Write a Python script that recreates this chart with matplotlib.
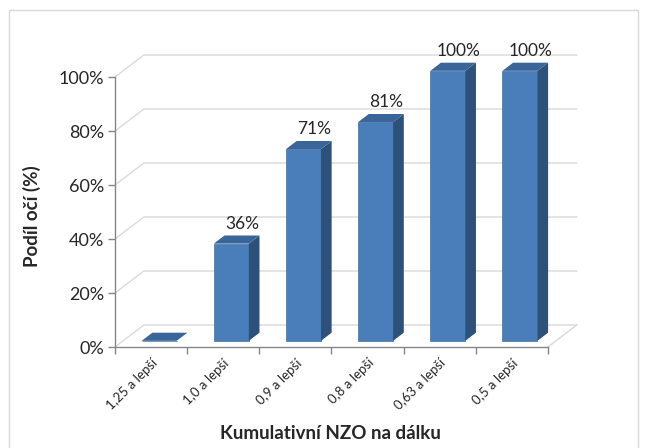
import matplotlib
matplotlib.use("Agg")
import matplotlib.pyplot as plt
from matplotlib.patches import Polygon, Rectangle

categories = ["1,25 a lepší", "1,0 a lepší", "0,9 a lepší", "0,8 a lepší", "0,63 a lepší", "0,5 a lepší"]
values = [0, 36, 71, 81, 100, 100]
value_labels = ["", "36%", "71%", "81%", "100%", "100%"]
yticks = [0, 20, 40, 60, 80, 100]
ytick_labels = ["0%", "20%", "40%", "60%", "80%", "100%"]

FRONT, SIDE, TOP = "#4a7ebb", "#2e5079", "#3a659b"
GRID, AXIS, TXT = "#d9d9d9", "#868686", "#262626"
DX, DY = 0.40, 8.15      # floor depth (category units, % units)
Z0, Z1 = 0.28, 0.65      # bar front / back depth as fraction of floor depth
W = 0.485                # bar width

plt.rcParams["font.family"] = ["Lato", "DejaVu Sans"]

fig = plt.figure(figsize=(6.48, 4.48), dpi=100)
ax = fig.add_axes([115 / 648, (448 - 347) / 448, (584 - 115) / 648, (347 - 36.5) / 448])
ax.set_xlim(-0.5, 6.0)
ax.set_ylim(0, 115)

# back wall gridlines + left-wall diagonals
n = len(categories)
for v in yticks:
    ax.plot([-0.5, -0.5 + DX, n - 0.5 + DX], [v, v + DY, v + DY], color=GRID, lw=1, zorder=1)
# right edge of the floor
ax.plot([n - 0.5, n - 0.5 + DX], [0, DY], color=GRID, lw=1, zorder=1)

# pseudo-3D columns
xs = list(range(n))
ax.bar([x + Z0 * DX for x in xs], values, width=W, bottom=Z0 * DY, color=FRONT,
       edgecolor="#41709f", linewidth=0.5, zorder=3)
for x, v, lab in zip(xs, values, value_labels):
    l, r = x - W / 2, x + W / 2
    side = [(r + Z0 * DX, Z0 * DY), (r + Z1 * DX, Z1 * DY),
            (r + Z1 * DX, v + Z1 * DY), (r + Z0 * DX, v + Z0 * DY)]
    top = [(l + Z0 * DX, v + Z0 * DY), (r + Z0 * DX, v + Z0 * DY),
           (r + Z1 * DX, v + Z1 * DY), (l + Z1 * DX, v + Z1 * DY)]
    if v > 0:
        ax.add_patch(Polygon(side, closed=True, facecolor=SIDE, edgecolor="none", zorder=3))
    ax.add_patch(Polygon(top, closed=True, facecolor=TOP, edgecolor="none", zorder=3))
    if lab:
        ax.text(x + 0.26, v + Z0 * DY + 7.3, lab, ha="center", va="center",
                fontsize=12.5, color=TXT, zorder=4)

# axes
for s in ["top", "right"]:
    ax.spines[s].set_visible(False)
ax.spines["left"].set_bounds(0, 100)
ax.spines["bottom"].set_bounds(-0.5, n - 0.5)
for s in ["left", "bottom"]:
    ax.spines[s].set_color(AXIS)
    ax.spines[s].set_linewidth(1)
ax.set_yticks(yticks, ytick_labels)
ax.set_xticks([i - 0.5 for i in range(n + 1)], [""] * (n + 1))
ax.set_xticks(xs, categories, minor=True)
ax.tick_params(axis="both", which="major", direction="out", length=5, color=AXIS, width=1)
ax.tick_params(axis="y", labelsize=13, labelcolor=TXT, pad=3)
ax.tick_params(axis="x", which="minor", length=0, labelsize=9.5, labelcolor=TXT, pad=7)
for t in ax.get_xticklabels(minor=True):
    t.set_rotation(45)
    t.set_ha("right")
    t.set_va("top")
    t.set_rotation_mode("anchor")

fig.text(32 / 648, 1 - 216 / 448, "Podíl očí (%)", rotation=90, ha="center", va="center",
         fontsize=13.5, fontweight="bold", color=TXT)
fig.text(330 / 648, 1 - 433 / 448, "Kumulativní NZO na dálku", ha="center", va="center",
         fontsize=13.5, fontweight="bold", color=TXT)

# outer frame
fig.add_artist(Rectangle((9 / 648, -0.02), (638 - 9) / 648, 0.02 + (448 - 10) / 448,
                         transform=fig.transFigure, fill=False, edgecolor=GRID, lw=1))

fig.savefig("out.png", dpi=100)
